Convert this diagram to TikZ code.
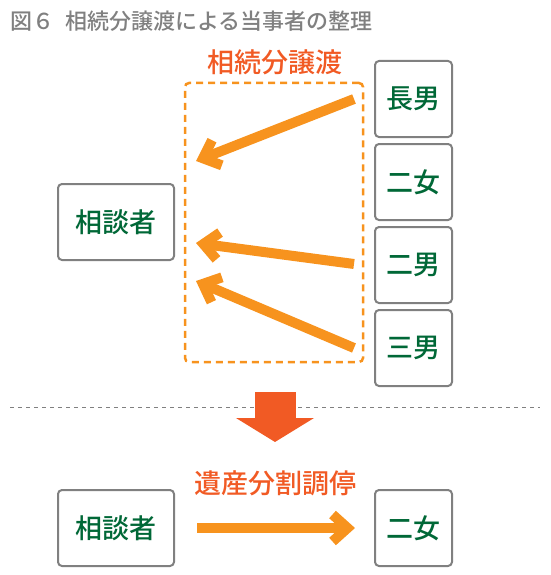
\documentclass[tikz,border=0pt]{standalone}
\usepackage{fontspec}
\newfontfamily\jpfont{Noto Sans CJK JP Medium}
\usetikzlibrary{arrows.meta, positioning, calc}
\definecolor{arroworange}{HTML}{F7931E}
\definecolor{labelred}{HTML}{F15A24}
\definecolor{namegreen}{HTML}{006837}
\definecolor{framegray}{HTML}{808080}

\begin{document}
\begin{tikzpicture}[
    x=1pt, y=-1pt,
    node distance=5pt,
    person/.style={draw=framegray, line width=2pt, fill=white, rounded corners=4pt, minimum width=77pt, minimum height=76pt, inner sep=0pt, text=namegreen, font=\jpfont\fontsize{27}{30}\selectfont},
    caption/.style={text=labelred, inner sep=0pt, font=\jpfont\fontsize{27}{30}\selectfont},
    transfer/.style={line width=10pt, color=arroworange, -{Straight Barb[sharp, length=15pt, width=27pt]}}
]
    \useasboundingbox (0,0) rectangle (550,575);

    % Title
    \node[anchor=west, inner sep=0pt, text=framegray, font=\jpfont\fontsize{22}{24}\selectfont] (title) at (10,21) {図６\enspace 相続分譲渡による当事者の整理};

    % Upper part: transfer of shares
    \node[person, minimum width=116pt] (client) at (116,222) {相談者};
    \node[person] (eldest) at (413.5,99) {長男};
    \node[person, below=of eldest] (daughter) {二女};
    \node[person, below=of daughter] (second) {二男};
    \node[person, below=of second] (third) {三男};

    \node[draw=arroworange, line width=2.5pt, dash pattern=on 7pt off 5pt, rounded corners=4pt, minimum width=178pt, minimum height=279pt] (area) at (274,222.5) {};
    \node[caption] (arealabel) at (275,62) {相続分譲渡};

    \coordinate (tipA) at (196,161);
    \coordinate (tipB) at (196,243);
    \coordinate (tipC) at (196,281);

    \draw[transfer] ([xshift=-20pt]eldest.west) -- (tipA);
    \draw[transfer] ([xshift=-20pt, yshift=1pt]second.west) -- (tipB);
    \draw[transfer] ([xshift=-20pt]third.west) -- (tipC);

    % Separator
    \coordinate (sepL) at (10,407);
    \coordinate (sepR) at (540,407);
    \draw[framegray, line width=1pt, dash pattern=on 4pt off 4pt] (sepL) -- (sepR);

    \coordinate (downtop) at (275,392);
    \coordinate (downtip) at (275,442);
    \draw[labelred, line width=41pt, -{Triangle[length=24pt, width=77pt]}] (downtop) -- (downtip);

    % Lower part: mediation
    \node[caption] (medlabel) at (275,483) {遺産分割調停};
    \node[person, minimum width=116pt] (client2) at (116,528) {相談者};
    \node[person] (daughter2) at (413.5,528) {二女};

    \draw[transfer] ([xshift=22pt]client2.east) -- ([xshift=-19pt]daughter2.west);
\end{tikzpicture}
\end{document}
